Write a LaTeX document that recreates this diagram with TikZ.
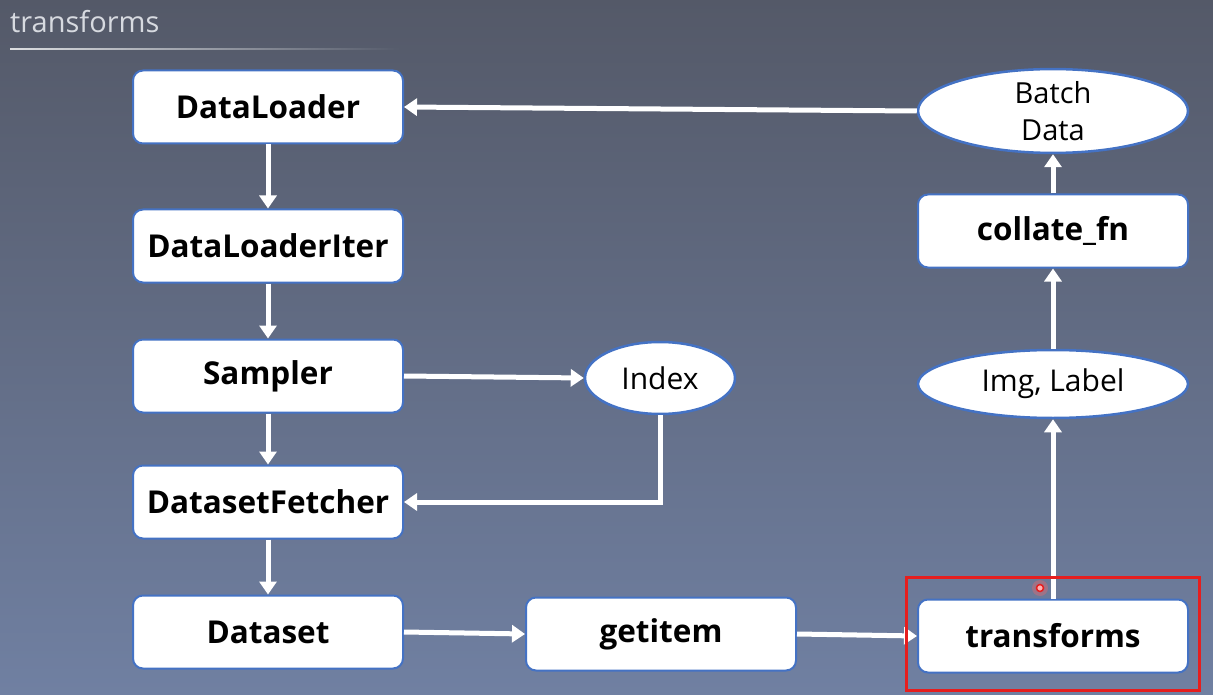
\documentclass[tikz,border=0pt]{standalone}
\usepackage{fontspec}
\setmainfont{Open Sans}
\usetikzlibrary{arrows.meta,shapes.geometric,fadings}
\definecolor{bgtop}{RGB}{84,89,104}
\definecolor{bgbot}{RGB}{112,128,162}
\definecolor{boxline}{RGB}{68,114,196}
\definecolor{titlegray}{RGB}{215,218,224}
\definecolor{redline}{RGB}{230,30,30}
\tikzset{
  box/.style={draw=boxline,line width=2pt,fill=white,rounded corners=10pt,minimum width=270pt,minimum height=73pt,inner sep=0pt,font=\fontsize{31.5}{36}\selectfont\bfseries},
  oval/.style={ellipse,draw=boxline,line width=2.5pt,fill=white,inner sep=0pt,font=\fontsize{30}{34}\selectfont,align=center},
  flow/.style={draw=white,line width=5pt,-{Triangle[width=17pt,length=13pt]}}
}
\begin{document}
\begin{tikzpicture}[x=1pt,y=-1pt]
\useasboundingbox (0,0) rectangle (1213,695);
\shade[top color=bgtop,bottom color=bgbot] (0,0) rectangle (1213,695);
% title
\node[anchor=base west,inner sep=0pt,text=titlegray,font=\fontsize{29}{34}\selectfont] (title) at (10,33) {transforms};
\fill[white,path fading=east,opacity=0.8] (10,48) rectangle (400,50.5);
% nodes
\node[box] (dl) at (268,107) {DataLoader};
\node[box] (dli) at (268,246) {DataLoaderIter};
\node[box] (samp) at (268,376) {Sampler};
\node[box] (dsf) at (268,502) {DatasetFetcher};
\node[box] (ds) at (268,632) {Dataset};
\node[box] (gi) at (661,634) {getitem};
\node[box] (tf) at (1053,636) {transforms};
\node[box] (cf) at (1053,231) {collate\_fn};
\node[oval,minimum width=150pt,minimum height=72pt] (idx) at (660,378) {Index};
\node[oval,minimum width=270pt,minimum height=68pt] (il) at (1053,384) {Img, Label};
\node[oval,minimum width=270pt,minimum height=82pt,font=\fontsize{29}{37}\selectfont] (bd) at (1053,111) {Batch\\Data};
% connectors
\draw[flow] (dl) -- (dli);
\draw[flow] (dli) -- (samp);
\draw[flow] (samp) -- (dsf);
\draw[flow] (dsf) -- (ds);
\draw[flow] (samp.east) -- (idx.west);
\draw[flow] (idx.south) |- (dsf.east);
\draw[flow] (ds.east |- 0,632) -- (gi.west);
\draw[flow] (gi.east) -- (tf.west);
\draw[flow] (tf.north) -- (il.south);
\draw[flow] (il.north) -- (cf.south);
\draw[flow] (cf.north) -- (bd.south);
\draw[flow] (bd.west) -- (dl.east);
% highlight
\draw[redline,line width=3pt] (906,577) rectangle (1199,690);
\fill[red!60,opacity=0.35] (1040,588) circle (8pt);
\draw[redline,line width=1.5pt,fill=red!30!white] (1040,588) circle (3.5pt);
\end{tikzpicture}
\end{document}
